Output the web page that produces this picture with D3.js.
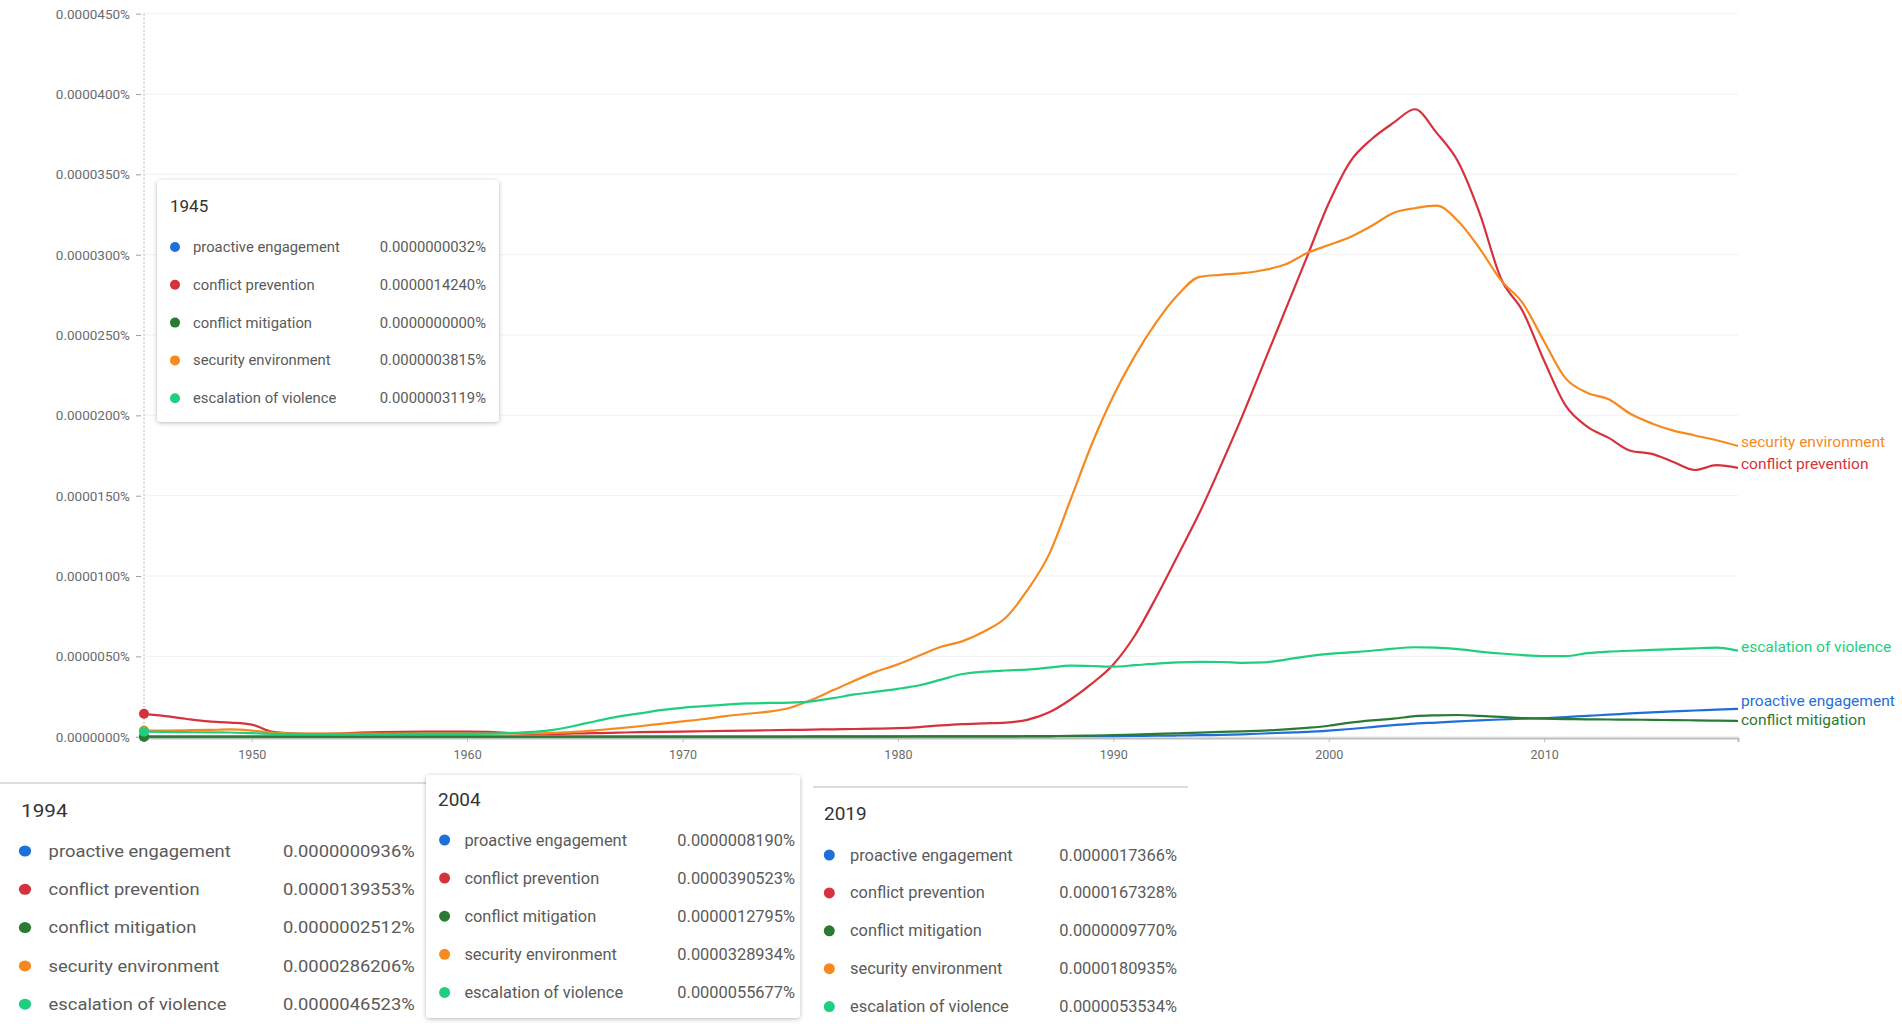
<!DOCTYPE html>
<html>
<head>
<meta charset="utf-8">
<script src="https://cdn.jsdelivr.net/npm/d3@7"></script>
<style>
  body { margin: 0; background: #fff; }
  text { font-family: Roboto, "Noto Sans", sans-serif; }
</style>
</head>
<body>
<svg id="vis" width="1902" height="1024"></svg>
<script>
// valores en millonésimas de punto porcentual (1 = 0.000001%)
const years = [
  1945, 1946, 1947, 1948, 1949, 1950, 1951, 1952, 1953, 1954,
  1955, 1956, 1957, 1958, 1959, 1960, 1961, 1962, 1963, 1964,
  1965, 1966, 1967, 1968, 1969, 1970, 1971, 1972, 1973, 1974,
  1975, 1976, 1977, 1978, 1979, 1980, 1981, 1982, 1983, 1984,
  1985, 1986, 1987, 1988, 1989, 1990, 1991, 1992, 1993, 1994,
  1995, 1996, 1997, 1998, 1999, 2000, 2001, 2002, 2003, 2004,
  2005, 2006, 2007, 2008, 2009, 2010, 2011, 2012, 2013, 2014,
  2015, 2016, 2017, 2018, 2019
]

const proactiveEngagement = [
  0.0032, 0.005, 0.005, 0.005, 0.005, 0.005, 0.005, 0.005, 0.005, 0.005,
  0.005, 0.005, 0.005, 0.005, 0.005, 0.005, 0.01, 0.01, 0.01, 0.01,
  0.01, 0.01, 0.01, 0.01, 0.01, 0.01, 0.01, 0.01, 0.01, 0.01,
  0.01, 0.01, 0.01, 0.01, 0.01, 0.01, 0.015, 0.015, 0.015, 0.015,
  0.015, 0.02, 0.025, 0.03, 0.035, 0.04, 0.05, 0.06, 0.075, 0.0936,
  0.11, 0.15, 0.20, 0.25, 0.30, 0.38, 0.48, 0.60, 0.72, 0.8190,
  0.88, 0.95, 1.02, 1.07, 1.12, 1.15, 1.22, 1.30, 1.37, 1.45,
  1.52, 1.58, 1.63, 1.69, 1.7366
]

const conflictPrevention = [
  1.4240, 1.28, 1.10, 0.95, 0.88, 0.75, 0.30, 0.20, 0.18, 0.20,
  0.25, 0.28, 0.30, 0.31, 0.31, 0.31, 0.30, 0.22, 0.18, 0.18,
  0.20, 0.22, 0.25, 0.28, 0.30, 0.32, 0.34, 0.36, 0.38, 0.40,
  0.42, 0.44, 0.46, 0.48, 0.50, 0.53, 0.60, 0.70, 0.78, 0.83,
  0.88, 1.05, 1.50, 2.30, 3.30, 4.50, 6.30, 8.70, 11.30, 13.9353,
  16.9, 20.0, 23.3, 26.6, 29.9, 33.2, 35.8, 37.2, 38.2, 39.0523,
  37.6, 35.8, 32.6, 28.5, 26.5, 23.4, 20.6, 19.3, 18.6, 17.8,
  17.6, 17.1, 16.6, 16.9, 16.7328
]

const conflictMitigation = [
  0, 0.002, 0.002, 0.002, 0.002, 0.002, 0.002, 0.002, 0.002, 0.002,
  0.002, 0.002, 0.002, 0.002, 0.002, 0.002, 0.005, 0.005, 0.005, 0.005,
  0.005, 0.005, 0.005, 0.005, 0.005, 0.008, 0.008, 0.008, 0.008, 0.008,
  0.01, 0.015, 0.015, 0.015, 0.015, 0.015, 0.015, 0.015, 0.015, 0.015,
  0.02, 0.03, 0.04, 0.05, 0.07, 0.10, 0.13, 0.17, 0.21, 0.2512,
  0.30, 0.33, 0.38, 0.45, 0.55, 0.68, 0.88, 1.02, 1.12, 1.2795,
  1.33, 1.35, 1.30, 1.23, 1.16, 1.12, 1.10, 1.08, 1.07, 1.06,
  1.05, 1.03, 1.02, 1.00, 0.9770
]

const securityEnvironment = [
  0.3815, 0.38, 0.40, 0.42, 0.45, 0.38, 0.25, 0.20, 0.19, 0.19,
  0.20, 0.20, 0.20, 0.20, 0.20, 0.20, 0.20, 0.20, 0.20, 0.24,
  0.30, 0.40, 0.52, 0.65, 0.80, 0.95, 1.10, 1.28, 1.43, 1.56,
  1.80, 2.30, 2.90, 3.50, 4.05, 4.50, 5.05, 5.60, 5.95, 6.55,
  7.40, 9.10, 11.30, 14.70, 18.20, 21.20, 23.70, 25.80, 27.50, 28.6206,
  28.75, 28.85, 29.05, 29.40, 30.10, 30.60, 31.10, 31.80, 32.60, 32.8934,
  33.05, 32.10, 30.40, 28.40, 27.00, 24.60, 22.30, 21.40, 21.00, 20.10,
  19.50, 19.05, 18.75, 18.45, 18.0935
]

const escalationOfViolence = [
  0.3119, 0.30, 0.28, 0.27, 0.26, 0.22, 0.18, 0.17, 0.16, 0.16,
  0.16, 0.16, 0.17, 0.17, 0.17, 0.18, 0.19, 0.22, 0.30, 0.43,
  0.68, 0.98, 1.25, 1.45, 1.65, 1.80, 1.90, 2.00, 2.07, 2.10,
  2.12, 2.20, 2.40, 2.63, 2.80, 2.98, 3.20, 3.55, 3.90, 4.05,
  4.12, 4.18, 4.30, 4.42, 4.40, 4.36, 4.45, 4.55, 4.62, 4.6523,
  4.65, 4.60, 4.62, 4.80, 5.00, 5.15, 5.25, 5.35, 5.48, 5.5677,
  5.55, 5.45, 5.30, 5.18, 5.08, 5.02, 5.02, 5.20, 5.30, 5.35,
  5.40, 5.45, 5.50, 5.55, 5.3534
]

const seriesNames = ["proactive engagement", "conflict prevention", "conflict mitigation",
                     "security environment", "escalation of violence"]
const seriesColors = ["#1f6fdb", "#d6323c", "#2b7a31", "#f68a1f", "#1dcf7e"]
const seriesValues = [proactiveEngagement, conflictPrevention, conflictMitigation,
                      securityEnvironment, escalationOfViolence]

const yTicks = [0, 5, 10, 15, 20, 25, 30, 35, 40, 45]
const xTicks = [1950, 1960, 1970, 1980, 1990, 2000, 2010]

const series = seriesNames.map((name, i) => ({
  name: name,
  color: seriesColors[i],
  values: years.map((yr, j) => ({ year: yr, value: seriesValues[i][j] }))
}))

const SVG = d3.select("#vis")

// Escalas
const x = d3.scaleLinear().domain([1945, 2019]).range([144, 1738])
const y = d3.scaleLinear().domain([0, 45]).range([736.7, 13.7])

const fmtTick = d => d3.format(".7f")(d / 1e6) + "%"
const fmtValue = d => d3.format(".10f")(d / 1e6) + "%"

// sombra de los tooltips
const defs = SVG.append("defs")
defs.append("filter").attr("id", "shadow")
  .attr("x", "-10%").attr("y", "-10%").attr("width", "120%").attr("height", "130%")
  .append("feDropShadow")
  .attr("dx", 0).attr("dy", 1).attr("stdDeviation", 2)
  .attr("flood-color", "#000").attr("flood-opacity", 0.28)

// Grilla horizontal
SVG.append("g")
  .selectAll("line")
  .data(yTicks)
  .join("line")
  .attr("x1", x(1945))
  .attr("x2", x(2019))
  .attr("y1", d => y(d))
  .attr("y2", d => y(d))
  .attr("stroke", "#f1f1f1")

// Eje Y
const yAxis = SVG.append("g")
  .attr("transform", "translate(141,0)")
  .call(d3.axisLeft(y).tickValues(yTicks).tickFormat(fmtTick).tickSize(5).tickPadding(6))
yAxis.select(".domain").remove()
yAxis.selectAll("line").attr("stroke", "#9e9e9e")
yAxis.selectAll("text")
  .attr("fill", "#6b6b6b")
  .style("font-size", "13.5px")

// línea punteada vertical en 1945
SVG.append("line")
  .attr("x1", x(1945)).attr("x2", x(1945))
  .attr("y1", y(45)).attr("y2", y(0))
  .attr("stroke", "#b5b5b5")
  .attr("stroke-dasharray", "2,2")

// Eje X
const xAxis = SVG.append("g")
  .attr("transform", "translate(0,738)")
  .call(d3.axisBottom(x).tickValues(xTicks).tickFormat(d3.format("d")).tickSize(4).tickPadding(8))
xAxis.select(".domain").attr("stroke", "#bdbdbd").attr("stroke-width", 2)
xAxis.selectAll("line").attr("stroke", "#bdbdbd")
xAxis.selectAll("text")
  .attr("fill", "#6b6b6b")
  .style("font-size", "12.5px")

// Líneas
const line = d3.line()
  .x(d => x(d.year))
  .y(d => y(d.value))
  .curve(d3.curveMonotoneX)

SVG.append("g")
  .selectAll("path")
  .data(series)
  .join("path")
  .attr("fill", "none")
  .attr("stroke", d => d.color)
  .attr("stroke-width", 2.2)
  .attr("stroke-linejoin", "round")
  .attr("d", d => line(d.values))

// puntos en 1945
SVG.append("g")
  .selectAll("circle")
  .data(series)
  .join("circle")
  .attr("cx", d => x(d.values[0].year))
  .attr("cy", d => y(d.values[0].value))
  .attr("r", 5)
  .attr("fill", d => d.color)

// etiquetas a la derecha, separadas para que no se tapen
const ends = series.map(s => ({ s: s, pos: y(s.values[s.values.length - 1].value) }))
ends.sort((a, b) => a.pos - b.pos)
for (let k = 0; k < 30; k++) {
  for (let i = 1; i < ends.length; i++) {
    const gap = ends[i].pos - ends[i - 1].pos
    if (gap < 19) {
      const m = (19 - gap) / 2
      ends[i - 1].pos -= m
      ends[i].pos += m
    }
  }
}
SVG.append("g")
  .selectAll("text")
  .data(ends)
  .join("text")
  .attr("x", x(2019) + 3)
  .attr("y", d => d.pos - 4)
  .attr("dominant-baseline", "central")
  .attr("fill", d => d.s.color)
  .style("font-size", "15.5px")
  .text(d => d.s.name)

// Tooltips (posiciones de la captura)
const panels = [
  { year: 1945, box: [157, 180, 342, 242], titleX: 170, titleY: 206, titleSize: 17,
    rowY: 247, rowStep: 37.8, dotX: 175, labelX: 193, valueX: 486, size: 14.8, r: 5, sx: 1 },
  { year: 1994, topLine: [0, 426, 783], titleX: 21, titleY: 811, titleSize: 18.5,
    rowY: 851, rowStep: 38.3, dotX: 25, labelX: 48.6, valueX: 414.7, size: 16.4, r: 5.5, sx: 1.12 },
  { year: 2004, box: [426, 775, 374, 243], titleX: 438, titleY: 799, titleSize: 19,
    rowY: 840, rowStep: 38.1, dotX: 444.6, labelX: 464.4, valueX: 795, size: 16.4, r: 5.5, sx: 1 },
  { year: 2019, topLine: [813, 1188, 787], titleX: 824, titleY: 813, titleSize: 19,
    rowY: 855, rowStep: 37.9, dotX: 829.3, labelX: 850, valueX: 1177, size: 16.4, r: 5.5, sx: 1 }
]

panels.forEach(p => {
  const idx = years.indexOf(p.year)
  const g = SVG.append("g")
  if (p.box) {
    g.append("rect")
      .attr("x", p.box[0]).attr("y", p.box[1])
      .attr("width", p.box[2]).attr("height", p.box[3])
      .attr("rx", 4)
      .attr("fill", "#fff")
      .attr("filter", "url(#shadow)")
  }
  if (p.topLine) {
    g.append("line")
      .attr("x1", p.topLine[0]).attr("x2", p.topLine[1])
      .attr("y1", p.topLine[2]).attr("y2", p.topLine[2])
      .attr("stroke", "#dcdcdc").attr("stroke-width", 2)
  }
  const inner = g.append("g").attr("transform", `scale(${p.sx},1)`)
  inner.append("text")
    .attr("x", p.titleX / p.sx)
    .attr("y", p.titleY)
    .attr("dominant-baseline", "central")
    .attr("fill", "#333")
    .style("font-size", p.titleSize + "px")
    .text(p.year)

  const rows = inner.selectAll("g.row")
    .data(series)
    .join("g")
    .attr("class", "row")
    .attr("transform", (d, i) => `translate(0,${p.rowY + i * p.rowStep})`)
  rows.append("circle")
    .attr("cx", p.dotX / p.sx)
    .attr("r", p.r)
    .attr("fill", d => d.color)
  rows.append("text")
    .attr("x", p.labelX / p.sx)
    .attr("dominant-baseline", "central")
    .attr("fill", "#5a5a5a")
    .style("font-size", p.size + "px")
    .text(d => d.name)
  rows.append("text")
    .attr("x", p.valueX / p.sx)
    .attr("text-anchor", "end")
    .attr("dominant-baseline", "central")
    .attr("fill", "#5a5a5a")
    .style("font-size", p.size + "px")
    .text(d => fmtValue(d.values[idx].value))
})
</script>
</body>
</html>
